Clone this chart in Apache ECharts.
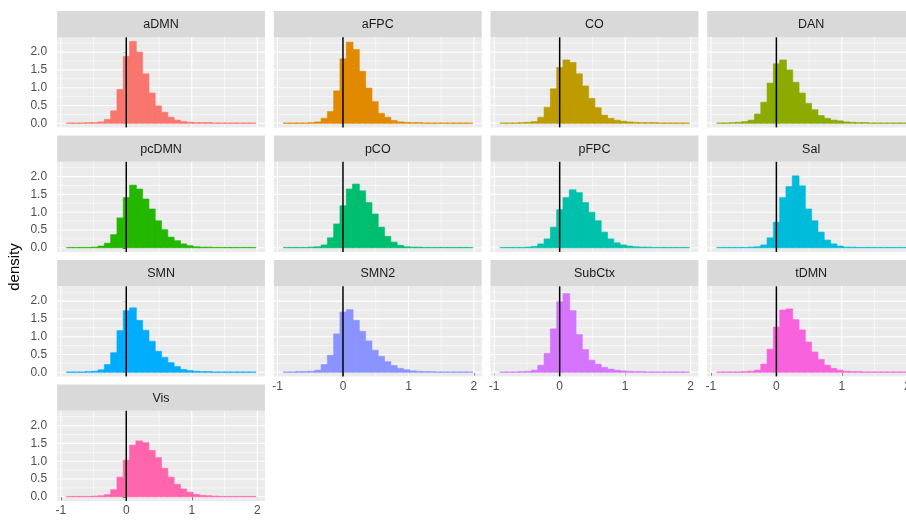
<!DOCTYPE html>
<html>
<head>
<meta charset="utf-8">
<script src="https://cdn.jsdelivr.net/npm/echarts@6/dist/echarts.min.js"></script>
<style>
  html, body { margin: 0; padding: 0; background: #ffffff; }
  #chart { width: 906px; height: 521px; }
</style>
</head>
<body>
<div id="chart"></div>
<script>
// Histogram bins shared by every facet (30 bins)
const binStart = -0.912;
const binWidth = 0.0962;
const binCount = 30;

// Facet names, in panel order
const regions = ['aDMN', 'aFPC', 'CO', 'DAN', 'pcDMN', 'pCO', 'pFPC', 'Sal', 'SMN', 'SMN2', 'SubCtx', 'tDMN', 'Vis'];

// Fill per facet
const fills = ['#F8766D', '#E18A00', '#BE9C00', '#8CAB00', '#24B700', '#00BE70', '#00C1AB',
               '#00BBDA', '#00ACFC', '#8B93FF', '#D575FE', '#F962DD', '#FF65AC'];

// Density per bin
const aDMN   = [0.01,0.01,0.01,0.02,0.02,0.04, 0.11,0.35,0.95,1.88, 2.30,2.00,1.39,0.85,0.49, 0.31,0.17,0.09,0.05,0.03, 0.02,0.02,0.02,0.01,0.01, 0.01,0.01,0.01,0.01,0.01];
const aFPC   = [0.01,0.01,0.01,0.01,0.02,0.04, 0.14,0.33,0.91,1.81, 2.28,2.07,1.46,0.99,0.61, 0.28,0.17,0.08,0.04,0.03, 0.02,0.02,0.01,0.01,0.01, 0.01,0.01,0.01,0.01,0.01];
const CO     = [0.01,0.01,0.01,0.02,0.03,0.05, 0.17,0.45,0.97,1.57, 1.78,1.71,1.39,1.05,0.70, 0.44,0.23,0.14,0.09,0.06, 0.04,0.03,0.02,0.02,0.02, 0.01,0.01,0.01,0.01,0.01];
const DAN    = [0.01,0.01,0.02,0.03,0.05,0.09, 0.26,0.59,1.13,1.67, 1.78,1.50,1.15,0.85,0.56, 0.38,0.22,0.14,0.09,0.07, 0.04,0.03,0.02,0.02,0.01, 0.01,0.01,0.01,0.01,0.01];
const pcDMN  = [0.01,0.01,0.01,0.01,0.02,0.05, 0.13,0.37,0.84,1.41, 1.76,1.65,1.37,1.09,0.76, 0.51,0.30,0.20,0.11,0.06, 0.03,0.02,0.02,0.01,0.01, 0.01,0.01,0.01,0.01,0.01];
const pCO    = [0.01,0.01,0.01,0.01,0.02,0.03, 0.08,0.28,0.67,1.18, 1.65,1.79,1.60,1.27,0.95, 0.58,0.32,0.16,0.07,0.03, 0.02,0.02,0.01,0.01,0.01, 0.01,0.01,0.01,0.01,0.01];
const pFPC   = [0.01,0.01,0.01,0.01,0.02,0.04, 0.11,0.25,0.58,1.07, 1.41,1.63,1.55,1.27,1.00, 0.76,0.44,0.25,0.14,0.08, 0.05,0.03,0.02,0.02,0.01, 0.01,0.01,0.01,0.01,0.01];
const Sal    = [0.01,0.01,0.01,0.01,0.01,0.02, 0.03,0.08,0.28,0.72, 1.41,1.72,2.02,1.74,1.09, 0.76,0.44,0.22,0.11,0.05, 0.02,0.02,0.01,0.01,0.01, 0.01,0.01,0.01,0.01,0.01];
const SMN    = [0.01,0.01,0.01,0.02,0.03,0.07, 0.22,0.55,1.17,1.73, 1.81,1.46,1.18,0.87,0.59, 0.42,0.27,0.16,0.08,0.05, 0.03,0.02,0.02,0.01,0.01, 0.01,0.01,0.01,0.01,0.01];
const SMN2   = [0.01,0.01,0.02,0.02,0.03,0.06, 0.22,0.48,1.08,1.69, 1.76,1.46,1.15,0.88,0.62, 0.45,0.30,0.19,0.11,0.07, 0.04,0.03,0.02,0.02,0.01, 0.01,0.01,0.01,0.01,0.01];
const SubCtx = [0.01,0.01,0.01,0.02,0.03,0.06, 0.20,0.53,1.22,1.98, 2.21,1.73,1.06,0.64,0.34, 0.23,0.14,0.09,0.06,0.04, 0.03,0.02,0.02,0.01,0.01, 0.01,0.01,0.01,0.01,0.01];
const tDMN   = [0.01,0.01,0.01,0.01,0.02,0.03, 0.06,0.23,0.65,1.27, 1.75,1.78,1.48,1.19,0.85, 0.57,0.36,0.20,0.11,0.06, 0.03,0.02,0.02,0.01,0.01, 0.01,0.01,0.01,0.01,0.01];
const Vis    = [0.01,0.01,0.01,0.01,0.02,0.03, 0.06,0.20,0.55,1.03, 1.45,1.57,1.52,1.30,1.10, 0.80,0.55,0.35,0.22,0.13, 0.07,0.04,0.03,0.02,0.01, 0.01,0.01,0.01,0.01,0.01];

// Axis breaks
const xBreaks = [-1, 0, 1, 2];
const xMinorBreaks = [-0.5, 0.5, 1.5];
const yBreaks = [0, 0.5, 1, 1.5, 2];
const yMinorBreaks = [0.25, 0.75, 1.25, 1.75, 2.25];

// Reference line
const refLine = [0];

const densities = { aDMN, aFPC, CO, DAN, pcDMN, pCO, pFPC, Sal, SMN, SMN2, SubCtx, tDMN, Vis };

// Scale limits with 5% expansion on each side
const xData0 = binStart, xData1 = binStart + binWidth * binCount;
const xPad = 0.05 * (xData1 - xData0);
const xLo = xData0 - xPad, xHi = xData1 + xPad;
const yMaxData = Math.max(...regions.map(r => Math.max(...densities[r])));
const yLo = -0.05 * yMaxData, yHi = 1.05 * yMaxData;

// Facet layout (pixels)
const NCOL = 4;
const panelLeft0 = 57.1, colStep = 216.7, panelW = 207.9;
const panelTop0 = 37.3, rowStep = 124.5, panelH = 90.1;
const stripH = 26.3;

const FONT = '"Liberation Sans", Arial, Helvetica, sans-serif';
const TEXT_AXIS = '#4D4D4D';
const TICK = '#333333';

const grids = [], xAxes = [], yAxes = [], series = [], graphics = [];

regions.forEach((name, i) => {
  const r = Math.floor(i / NCOL), c = i % NCOL;
  const left = panelLeft0 + colStep * c;
  const top = panelTop0 + rowStep * r;
  const isBottom = i + NCOL >= regions.length;
  const isLeft = c === 0;

  grids.push({
    left: left, top: top, width: panelW, height: panelH,
    show: true, backgroundColor: '#EBEBEB', borderWidth: 0,
    containLabel: false, outerBoundsMode: 'none'
  });

  xAxes.push({
    type: 'value', gridIndex: i, min: xLo, max: xHi,
    axisLine: { show: false },
    splitLine: { show: false },
    axisTick: { show: isBottom, customValues: xBreaks, length: 3.5, lineStyle: { color: TICK, width: 1 } },
    axisLabel: { show: isBottom, customValues: xBreaks, margin: 4, color: TEXT_AXIS, fontSize: 12, fontFamily: FONT,
                 formatter: v => String(v) }
  });

  yAxes.push({
    type: 'value', gridIndex: i, min: yLo, max: yHi,
    axisLine: { show: false },
    splitLine: { show: false },
    axisTick: { show: isLeft, customValues: yBreaks, length: 3.5, lineStyle: { color: TICK, width: 1 } },
    axisLabel: { show: isLeft, customValues: yBreaks, margin: 10, color: TEXT_AXIS, fontSize: 12, fontFamily: FONT,
                 formatter: v => v.toFixed(1) }
  });

  // Panel grid lines: minor first, major on top
  const gridLineData = []
    .concat(xMinorBreaks.map(v => [v, 0, 0]))
    .concat(yMinorBreaks.map(v => [v, 1, 0]))
    .concat(xBreaks.map(v => [v, 0, 1]))
    .concat(yBreaks.map(v => [v, 1, 1]));
  series.push({
    type: 'custom', xAxisIndex: i, yAxisIndex: i, z: 1, silent: true,
    encode: { x: 0 },
    data: gridLineData,
    renderItem: (params, api) => {
      const cs = params.coordSys;
      const v = api.value(0), vertical = api.value(1) === 0, major = api.value(2) === 1;
      const style = { stroke: '#FFFFFF', lineWidth: major ? 1.1 : 0.55 };
      if (vertical) {
        const x = api.coord([v, 0])[0];
        return { type: 'line', shape: { x1: x, y1: cs.y, x2: x, y2: cs.y + cs.height }, style };
      }
      const y = api.coord([0, v])[1];
      return { type: 'line', shape: { x1: cs.x, y1: y, x2: cs.x + cs.width, y2: y }, style };
    }
  });

  // Histogram bars
  const fill = fills[i];
  series.push({
    type: 'custom', name: name, xAxisIndex: i, yAxisIndex: i, z: 2, silent: true,
    encode: { x: [0, 1], y: 2 },
    data: densities[name].map((d, k) => [binStart + k * binWidth, binStart + (k + 1) * binWidth, d]),
    renderItem: (params, api) => {
      const top = api.coord([api.value(0), api.value(2)]);
      const base = api.coord([api.value(1), 0]);
      return {
        type: 'rect',
        shape: { x: top[0], y: top[1], width: base[0] - top[0] + 0.5, height: base[1] - top[1] },
        style: { fill: fill, stroke: fill, lineWidth: 0.6 }
      };
    }
  });

  // Vertical reference line
  series.push({
    type: 'custom', xAxisIndex: i, yAxisIndex: i, z: 3, silent: true,
    encode: { x: 0 },
    data: refLine.map(v => [v]),
    renderItem: (params, api) => {
      const cs = params.coordSys;
      const x = api.coord([api.value(0), 0])[0];
      return { type: 'line', shape: { x1: x, y1: cs.y, x2: x, y2: cs.y + cs.height },
               style: { stroke: '#000000', lineWidth: 1.5 } };
    }
  });

  // Strip label
  graphics.push({
    type: 'group', left: left, top: top - stripH, silent: true,
    children: [
      { type: 'rect', shape: { x: 0, y: 0, width: panelW, height: stripH }, style: { fill: '#D9D9D9' } },
      { type: 'text', x: panelW / 2, y: stripH / 2 + 0.5,
        style: { text: name, fill: '#1A1A1A', font: '12.5px ' + FONT, align: 'center', verticalAlign: 'middle' } }
    ]
  });
});

// Y axis title
graphics.push({
  type: 'text', x: 15, y: 267, rotation: Math.PI / 2, silent: true,
  style: { text: 'density', fill: '#000000', font: '15px ' + FONT, align: 'center', verticalAlign: 'middle' }
});

const chart = echarts.init(document.getElementById('chart'), null, { renderer: 'canvas' });
chart.setOption({
  animation: false,
  backgroundColor: '#FFFFFF',
  grid: grids,
  xAxis: xAxes,
  yAxis: yAxes,
  series: series,
  graphic: graphics
});
</script>
</body>
</html>
